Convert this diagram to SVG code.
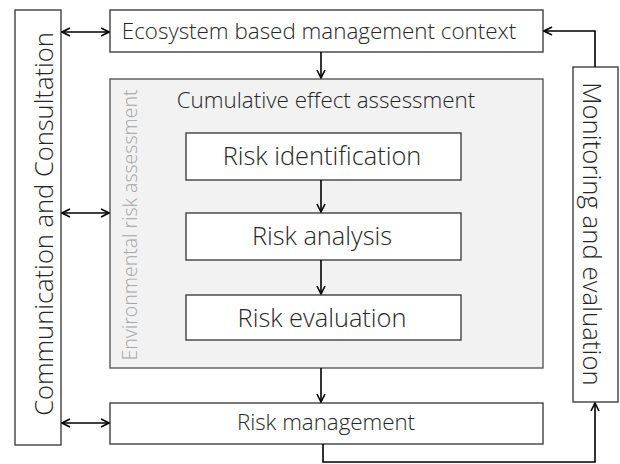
<svg xmlns="http://www.w3.org/2000/svg" width="620" height="464" viewBox="0 0 620 464">
<defs>
<marker id="ah" viewBox="0 0 10 10" refX="9" refY="5" markerWidth="10" markerHeight="10" markerUnits="userSpaceOnUse" orient="auto-start-reverse">
<path d="M1,1 L9,5 L1,9" fill="none" stroke="#000" stroke-width="1.6"/>
</marker>
</defs>
<style>
.box{fill:#fff;stroke:#404040;stroke-width:1.4}
.gray{fill:#f2f2f2;stroke:#595959;stroke-width:1.4}
.t{font-family:"Open Sans","Liberation Sans",sans-serif;font-weight:300;fill:#262626;text-anchor:middle}
.c{stroke:#000;stroke-width:1.6;fill:none}
</style>
<rect width="620" height="464" fill="#fff"/>
<g id="comm"><rect class="box" x="15" y="10" width="46" height="435"/>
<text class="t" font-size="25.5" transform="translate(53,224) rotate(-90)">Communication and Consultation</text></g>
<g id="context"><rect class="box" x="110" y="10" width="433" height="42"/>
<text class="t" font-size="22.4" x="319" y="39">Ecosystem based management context</text></g>
<g id="era"><rect class="gray" x="110" y="79" width="433" height="289"/>
<text class="t" font-size="19.5" style="fill:#a6a6a6" transform="translate(137,225) rotate(-90)">Environmental risk assessment</text>
<text class="t" font-size="22.4" x="326" y="108">Cumulative effect assessment</text></g>
<g id="ident"><rect class="box" x="186" y="133" width="275" height="47"/>
<text class="t" font-size="25.4" x="322" y="165">Risk identification</text></g>
<g id="analysis"><rect class="box" x="186" y="213" width="275" height="47"/>
<text class="t" font-size="25.4" x="322" y="245">Risk analysis</text></g>
<g id="evaluation"><rect class="box" x="186" y="295" width="275" height="45"/>
<text class="t" font-size="25.4" x="322" y="327">Risk evaluation</text></g>
<g id="mgmt"><rect class="box" x="110" y="403" width="433" height="41"/>
<text class="t" font-size="22.3" x="326" y="430">Risk management</text></g>
<g id="monitor"><rect class="box" x="573" y="67" width="45" height="335"/>
<text class="t" font-size="25.8" transform="translate(583,234) rotate(90)">Monitoring and evaluation</text></g>
<g id="connectors">
<line class="c" x1="62" y1="32" x2="109" y2="32" marker-start="url(#ah)" marker-end="url(#ah)"/>
<line class="c" x1="62" y1="213" x2="109" y2="213" marker-start="url(#ah)" marker-end="url(#ah)"/>
<line class="c" x1="62" y1="423" x2="109" y2="423" marker-start="url(#ah)" marker-end="url(#ah)"/>
<line class="c" x1="321" y1="52" x2="321" y2="78" marker-end="url(#ah)"/>
<line class="c" x1="321" y1="180" x2="321" y2="212" marker-end="url(#ah)"/>
<line class="c" x1="321" y1="260" x2="321" y2="294" marker-end="url(#ah)"/>
<line class="c" x1="321" y1="368" x2="321" y2="402" marker-end="url(#ah)"/>
<polyline class="c" points="595,67 595,31 544,31" marker-end="url(#ah)"/>
<polyline class="c" points="323,444 323,462 595,462 595,403" marker-end="url(#ah)"/>
</g>
</svg>
